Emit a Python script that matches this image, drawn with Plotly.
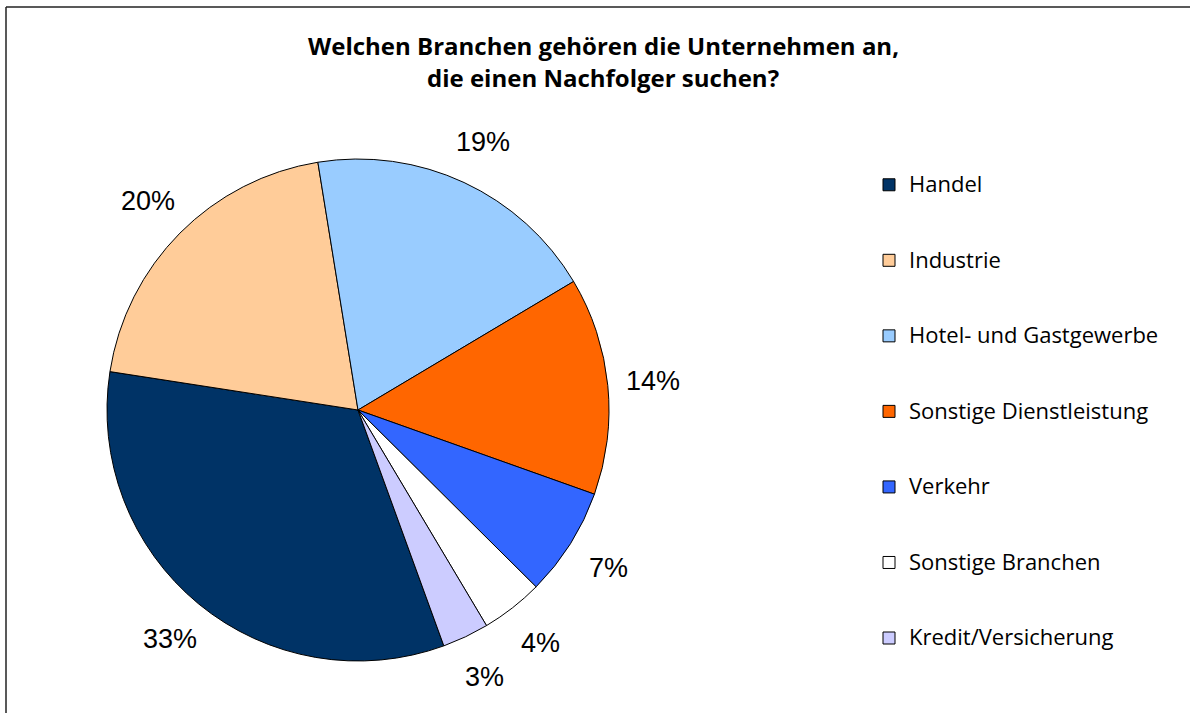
import numpy as np
import plotly.graph_objects as go

# ---- data ----
categories = ["Handel", "Industrie", "Hotel- und Gastgewerbe", "Sonstige Dienstleistung",
              "Verkehr", "Sonstige Branchen", "Kredit/Versicherung"]
values = [33, 20, 19, 14, 7, 4, 3]
colors = ["#003366", "#FFCC99", "#99CCFF", "#FF6600", "#3366FF", "#FFFFFF", "#CCCCFF"]
title_lines = ["Welchen Branchen gehören die Unternehmen an,", "die einen Nachfolger suchen?"]

# ---- layout constants (pixels) ----
W, H = 1190, 713
CX, CY, RAD = 358, 410, 251
LABEL_R = 296
ROTATION = 160

# legend labels: padded with blank lines to get the wide row spacing of the original
legend_labels = ["<br><span style='font-size:22px'>%s</span><br>&nbsp;" % c for c in categories]

fig = go.Figure()
fig.add_trace(go.Pie(
    labels=legend_labels,
    values=values,
    sort=False,
    direction="clockwise",
    rotation=ROTATION,
    marker=dict(colors=colors, line=dict(color="#000000", width=1)),
    textinfo="none",
    hoverinfo="percent",
    domain=dict(x=[(CX - RAD) / W, (CX + RAD) / W],
                y=[1 - (CY + RAD) / H, 1 - (CY - RAD) / H]),
))

# percentage labels outside the slices, placed at the slice mid-angles
vals = np.array(values, dtype=float)
cum = np.concatenate([[0.0], np.cumsum(vals)[:-1]])
mid_deg = ROTATION + (cum + vals / 2) / vals.sum() * 360.0
annotations = []
for v, a in zip(values, mid_deg):
    t = np.deg2rad(a)
    px = CX + LABEL_R * np.sin(t)
    py = CY - LABEL_R * np.cos(t)
    annotations.append(dict(
        x=px / W, y=1 - py / H, xref="paper", yref="paper",
        text=f"{v}%", showarrow=False, xanchor="center", yanchor="middle",
        font=dict(family="Liberation Sans, Arial", size=27, color="#000000"),
    ))

# title (two lines)
for txt, yy in zip(title_lines, [46, 77.5]):
    annotations.append(dict(
        x=603 / W, y=1 - yy / H, xref="paper", yref="paper",
        text=f"<b>{txt}</b>", showarrow=False, xanchor="center", yanchor="middle",
        font=dict(family="Open Sans", size=24, color="#000000"),
    ))

shapes = [
    dict(type="line", xref="paper", yref="paper", x0=6 / W, x1=1.0, y0=1 - 7 / H, y1=1 - 7 / H,
         line=dict(color="#222222", width=1.5)),
    dict(type="line", xref="paper", yref="paper", x0=6 / W, x1=6 / W, y0=1 - 7 / H, y1=0.0,
         line=dict(color="#222222", width=1.5)),
]

fig.update_layout(
    width=W, height=H,
    margin=dict(l=0, r=0, t=0, b=0),
    paper_bgcolor="#FFFFFF",
    plot_bgcolor="#FFFFFF",
    showlegend=True,
    legend=dict(
        x=869 / W, xanchor="left",
        y=1 - 411.5 / H, yanchor="middle",
        font=dict(family="Open Sans", size=18.6, color="#000000"),
        bgcolor="rgba(0,0,0,0)",
        traceorder="normal",
    ),
    annotations=annotations,
    shapes=shapes,
)

fig.write_html("out.html", config={"displayModeBar": False},
               post_script="document.body.style.margin='0px';")
